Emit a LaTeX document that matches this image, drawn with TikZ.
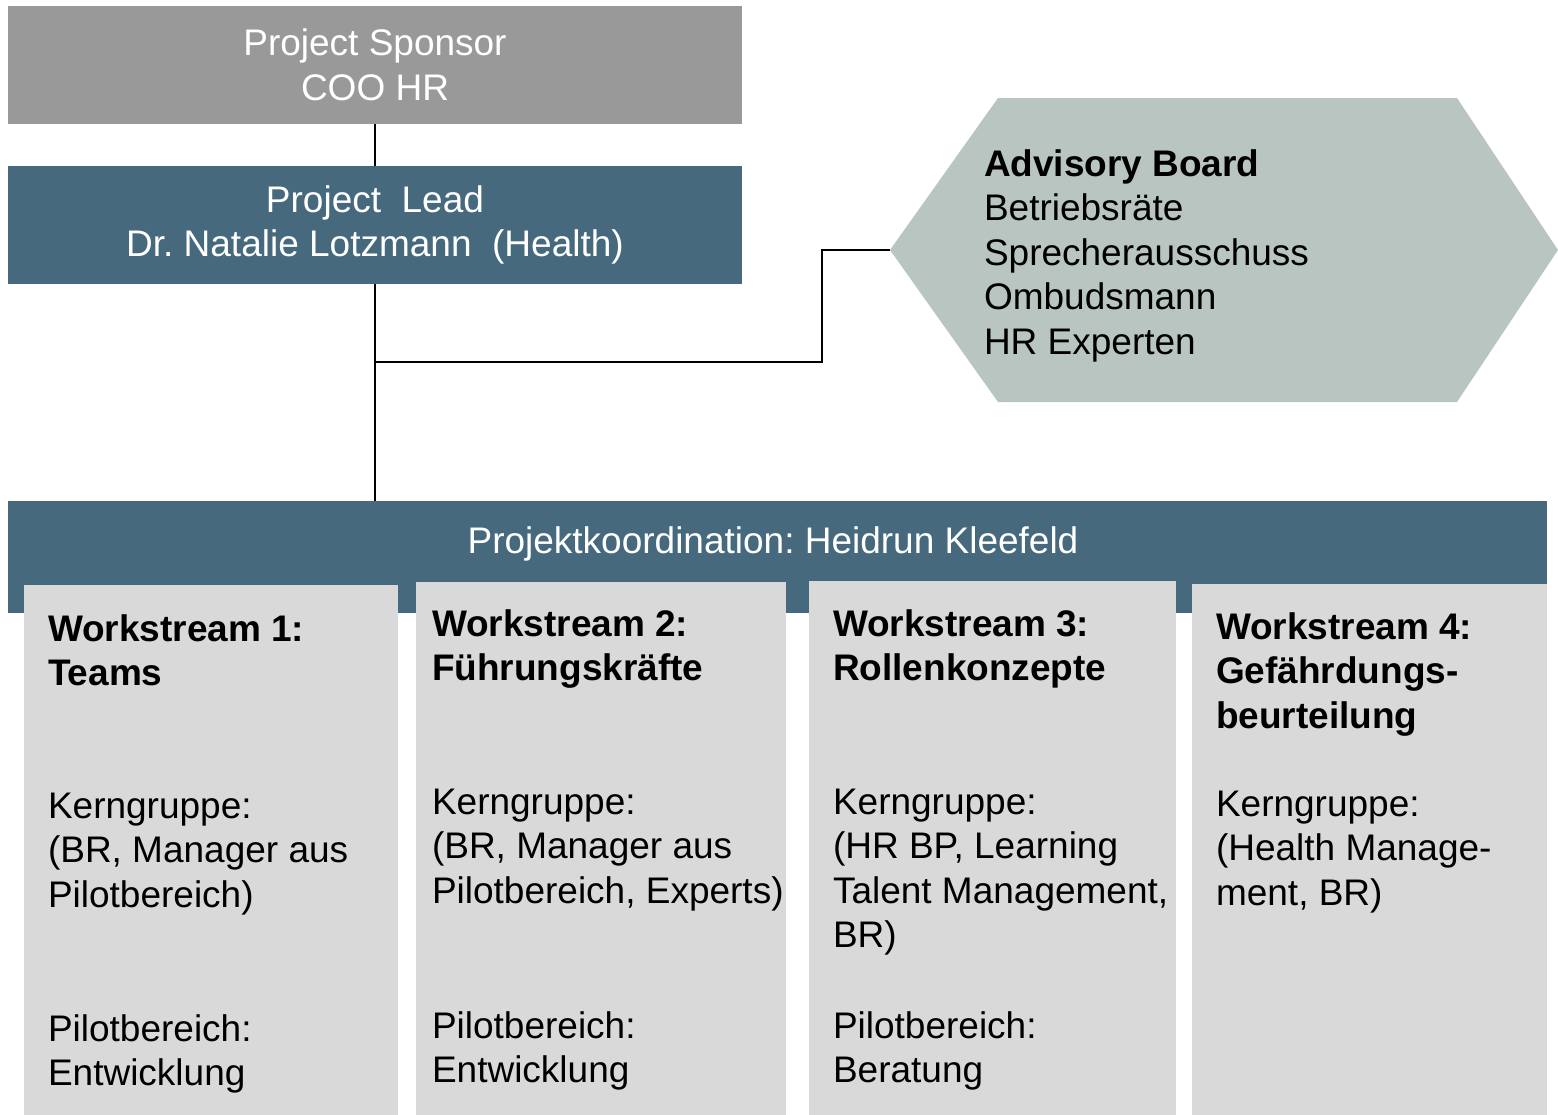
\documentclass[tikz,border=0pt]{standalone}
\usepackage{fontspec}
\setmainfont{Liberation Sans}
\frenchspacing
\definecolor{sponsorgray}{RGB}{153,153,153}
\definecolor{leadteal}{RGB}{70,105,125}
\definecolor{hexgray}{RGB}{184,197,193}
\definecolor{wsgray}{RGB}{217,217,217}
\begin{document}
\begin{tikzpicture}[x=1pt,y=-1pt,
  every node/.style={inner sep=0pt,outer sep=0pt},
  txt/.style={font=\fontsize{37}{44.6}\selectfont},
  bigbox/.style={rectangle,minimum width=734pt,minimum height=118pt,text=white,align=center,txt},
  wsbox/.style={rectangle,fill=wsgray,anchor=north west,minimum height=560pt},
  wstext/.style={anchor=base west,align=left,txt},
  conn/.style={draw=black,line width=2pt}]
\useasboundingbox (0,0) rectangle (1558,1114);
% top boxes
\node[bigbox,fill=sponsorgray] (sponsor) at (375,65) {Project Sponsor\\COO HR};
\node[bigbox,fill=leadteal] (lead) at (375,225) {Project\ \ Lead\\Dr. Natalie Lotzmann\ \ (Health)};
% coordination bar
\node[rectangle,fill=leadteal,anchor=north west,minimum width=1539pt,minimum height=112pt] (bar) at (8,501) {};
\node[txt,text=white,anchor=base] (coordtext) at (773,553) {Projektkoordination: Heidrun Kleefeld};
% advisory hexagon
\coordinate (adv) at (890,250);
\fill[hexgray] (adv) -- (998,98) -- (1457,98) -- (1558,250) -- (1457,402) -- (998,402) -- cycle;
\node[wstext] (advtext) at (984,354.4) {\textbf{Advisory Board}\\Betriebsräte\\Sprecherausschuss\\Ombudsmann\\HR Experten};
% connectors
\draw[conn] (sponsor.south) -- (lead.north);
\draw[conn] (lead.south) -- (lead.south |- bar.north);
\coordinate (junction) at (375,362);
\coordinate (bend) at (822,362);
\draw[conn] (junction) -- (bend) |- (adv);
% workstreams
\node[wsbox,minimum width=374pt] (ws1) at (24,585) {};
\node[wsbox,minimum width=370pt] (ws2) at (416,582) {};
\node[wsbox,minimum width=367pt] (ws3) at (809,581) {};
\node[wsbox,minimum width=355pt] (ws4) at (1192,584) {};
% workstream texts (anchored at the baseline of their last line)
\node[wstext] (ws1t) at (48,685.6) {\textbf{Workstream 1:}\\\textbf{Teams}};
\node[wstext] (ws1k) at (48,907.2) {Kerngruppe:\\(BR, Manager aus\\Pilotbereich)};
\node[wstext] (ws1p) at (48,1085.6) {Pilotbereich:\\Entwicklung};
\node[wstext] (ws2t) at (432,680.6) {\textbf{Workstream 2:}\\\textbf{Führungskräfte}};
\node[wstext] (ws2k) at (432,903.2) {Kerngruppe:\\(BR, Manager aus\\Pilotbereich, Experts)};
\node[wstext] (ws2p) at (432,1082.6) {Pilotbereich:\\Entwicklung};
\node[wstext] (ws3t) at (833,680.6) {\textbf{Workstream 3:}\\\textbf{Rollenkonzepte}};
\node[wstext] (ws3k) at (833,947.8) {Kerngruppe:\\(HR BP, Learning\\Talent Management,\\BR)};
\node[wstext] (ws3p) at (833,1082.6) {Pilotbereich:\\Beratung};
\node[wstext] (ws4t) at (1216,728.2) {\textbf{Workstream 4:}\\\textbf{Gefährdungs-}\\\textbf{beurteilung}};
\node[wstext] (ws4k) at (1216,905.2) {Kerngruppe:\\(Health Manage-\\ment, BR)};
\end{tikzpicture}
\end{document}
